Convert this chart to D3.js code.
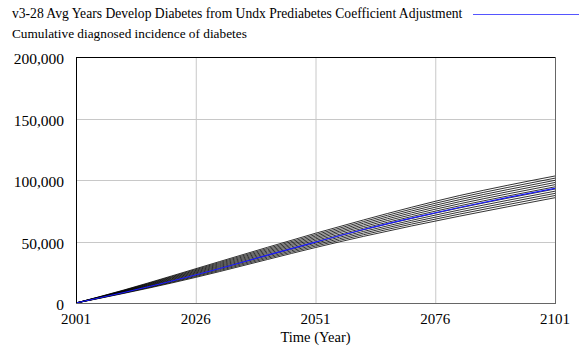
<!DOCTYPE html>
<html><head><meta charset="utf-8">
<script src="https://cdn.jsdelivr.net/npm/d3@7"></script>
<style>body{margin:0;background:#fff}svg{display:block}</style>
</head><body><svg id="c" width="579" height="349"></svg>
<script>
const title = "v3-28 Avg Years Develop Diabetes from Undx Prediabetes Coefficient Adjustment";
const varName = "Cumulative diagnosed incidence of diabetes";
const xLabel = "Time (Year)";
const years = [2001, 2011, 2021, 2031, 2041, 2051, 2061, 2071, 2081, 2091, 2101];
const xTicks = [2001, 2026, 2051, 2076, 2101];
const yTicks = [0, 50000, 100000, 150000, 200000];
const baseRun = [0, 8600, 17900, 28100, 38900, 49500, 59700, 69000, 77700, 85700, 93200];
const run0 = [0, 7830, 16290, 25570, 35400, 45100, 54150, 62600, 70550, 78150, 85600];
const run1 = [0, 8110, 16860, 26390, 36390, 46260, 55490, 64120, 72230, 79900, 87370];
const run2 = [0, 8380, 17440, 27200, 37380, 47420, 56820, 65640, 73900, 81640, 89130];
const run3 = [0, 8660, 18010, 28020, 38380, 48580, 58160, 67160, 75580, 83390, 90900];
const run4 = [0, 8930, 18580, 28830, 39370, 49740, 59490, 68680, 77250, 85130, 92670];
const run5 = [0, 9210, 19160, 29650, 40360, 50900, 60830, 70200, 78930, 86880, 94440];
const run6 = [0, 9480, 19730, 30460, 41350, 52060, 62160, 71720, 80600, 88620, 96200];
const run7 = [0, 9760, 20300, 31280, 42340, 53220, 63500, 73240, 82280, 90370, 97970];
const run8 = [0, 10030, 20870, 32090, 43340, 54380, 64830, 74760, 83950, 92110, 99740];
const run9 = [0, 10310, 21450, 32910, 44330, 55540, 66170, 76280, 85630, 93860, 101500];
const run10 = [0, 10580, 22020, 33720, 45320, 56700, 67500, 77800, 87300, 95600, 103270];
const sensRuns = [run0, run1, run2, run3, run4, run5, run6, run7, run8, run9, run10];

const FONT = "'Liberation Serif', 'Times New Roman', Times, serif";
const svg = d3.select("#c").attr("font-family", FONT);
const L = 76, R = 555, T = 57, B = 303;
const x = d3.scaleLinear().domain([2001, 2101]).range([L, R]);
const y = d3.scaleLinear().domain([0, 200000]).range([B, T]);

// gridlines
svg.append("g").selectAll("line").data(xTicks.slice(1, -1)).join("line")
  .attr("x1", d => x(d) + .5).attr("x2", d => x(d) + .5).attr("y1", T).attr("y2", B)
  .attr("stroke", "#c8c8c8").attr("stroke-width", 1);
svg.append("g").selectAll("line").data(yTicks.slice(1, -1)).join("line")
  .attr("x1", L).attr("x2", R).attr("y1", d => Math.round(y(d)) + .5).attr("y2", d => Math.round(y(d)) + .5)
  .attr("stroke", "#c8c8c8").attr("stroke-width", 1);

// lines
const line = d3.line().x((d, i) => x(years[i])).y(d => y(d)).curve(d3.curveMonotoneX);
svg.append("g").selectAll("path").data(sensRuns).join("path")
  .attr("d", line).attr("fill", "none").attr("stroke", "#000").attr("stroke-width", 0.8);
svg.append("path").datum(baseRun).attr("d", line).attr("fill", "none")
  .attr("stroke", "#1a1aff").attr("stroke-width", 1.1);

// frame
svg.append("line").attr("x1", L + .5).attr("x2", L + .5).attr("y1", T).attr("y2", B).attr("stroke", "#000");
svg.append("line").attr("x1", L).attr("x2", R).attr("y1", T + .5).attr("y2", T + .5).attr("stroke", "#000");
svg.append("line").attr("x1", R + .5).attr("x2", R + .5).attr("y1", T).attr("y2", B + 1).attr("stroke", "#666");
svg.append("line").attr("x1", L).attr("x2", R + 1).attr("y1", B + .5).attr("y2", B + .5).attr("stroke", "#666");

// y tick labels
const fmt = d3.format(",");
svg.append("g").selectAll("text").data(yTicks).join("text")
  .attr("x", 64).attr("y", d => y(d) + 7).attr("text-anchor", "end")
  .attr("font-size", 15.5).text(d => fmt(d));
// x tick labels
svg.append("g").selectAll("text").data(xTicks).join("text")
  .attr("x", d => x(d)).attr("y", 324).attr("text-anchor", "middle")
  .attr("font-size", 15).text(d => d);
svg.append("text").attr("x", x(2051)).attr("y", 341.5).attr("text-anchor", "middle")
  .attr("font-size", 14.5).text(xLabel);

// header
svg.append("text").attr("x", 12).attr("y", 17.5).attr("font-size", 13.6).text(title);
svg.append("line").attr("x1", 473).attr("x2", 579).attr("y1", 14.5).attr("y2", 14.5).attr("stroke", "#5555ff").attr("stroke-width", 1.2);
svg.append("text").attr("x", 12).attr("y", 37.5).attr("font-size", 13.3).text(varName);
</script></body></html>
